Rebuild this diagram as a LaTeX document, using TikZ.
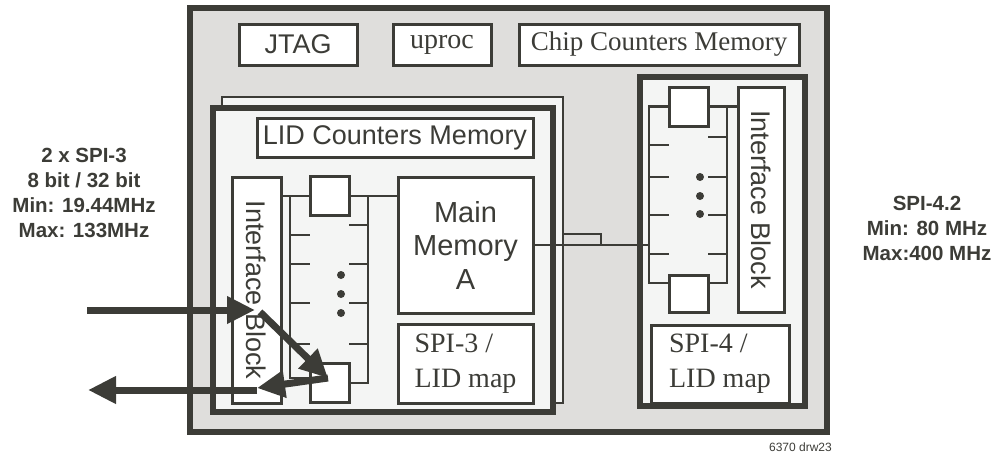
\documentclass[tikz,border=0pt]{standalone}
\usepackage{fontspec}
\setmainfont{Liberation Serif}
\setsansfont{Liberation Sans}
\usetikzlibrary{arrows.meta,calc}
\definecolor{ink}{HTML}{3C3C37}
\definecolor{chipgray}{HTML}{DFDEDC}
\definecolor{blockfill}{HTML}{F4F5F4}
\tikzset{
  chip/.style={draw=ink,line width=5.5pt,fill=chipgray,inner sep=0pt},
  block/.style={draw=ink,line width=5.5pt,fill=blockfill,inner sep=0pt},
  blockback/.style={draw=ink,line width=2.2pt,fill=blockfill,inner sep=0pt},
  sbox/.style={draw=ink,line width=3pt,fill=white,inner sep=0pt,text=ink,
    font=\sffamily\fontsize{27}{32}\selectfont},
  rbox/.style={draw=ink,line width=3pt,fill=white,inner sep=0pt,text=ink,
    font=\rmfamily\fontsize{28}{35}\selectfont},
  sq/.style={draw=ink,line width=3pt,fill=white,inner sep=0pt,
    minimum width=39pt,minimum height=39pt},
  bus/.style={draw=ink,line width=2.7pt},
  flow/.style={draw=ink,line width=7pt,-{Triangle[length=28pt,width=26pt]}},
  lbl/.style={align=center,text=ink,font=\sffamily\bfseries\fontsize{20.5}{25}\selectfont}
}

\begin{document}
\begin{tikzpicture}[x=1pt,y=-1pt]
  \useasboundingbox (0,0) rectangle (999,458);

  % Chip
  \node[chip, minimum width=637pt, minimum height=424pt] (chip) at (508.5,220) {};
  \node[sbox, minimum width=118pt, minimum height=41pt] (jtag) at (298,44.5) {JTAG};
  \node[rbox, minimum width=98pt, minimum height=41pt] (uproc) at (442,44.5) {uproc};
  \node[rbox, minimum width=280pt, minimum height=41pt, font=\rmfamily\fontsize{27}{32}\selectfont]
    (chipmem) at (659,44.5) {Chip Counters Memory};

  % SPI-3 side: second block behind, first block in front
  \node[blockback, minimum width=341pt, minimum height=306pt] (lidB) at (392.5,250) {};
  \node[block, minimum width=340pt, minimum height=304pt] (lidA) at (383,260) {};
  \node[sbox, minimum width=276pt, minimum height=39pt] (lidmem) at (395,137.5) {LID Counters Memory};
  \node[sbox, rotate=-90, minimum width=226pt, minimum height=49pt] (ifL) at (256.5,290) {Interface Block};
  \node[sq] (topL) at (329.5,196) {};
  \node[sq] (botL) at (329.5,383) {};
  \node[sbox, align=center, minimum width=135pt, minimum height=136pt,
    font=\sffamily\fontsize{29}{33.5}\selectfont] (mainA) at (465.5,245) {Main\\Memory\\A};
  \node[rbox, align=left, minimum width=135pt, minimum height=79pt] (map3) at (465.5,363.5) {SPI-3 /\\LID map};

  % SPI-3 bus
  \coordinate (railL1) at (290,196);
  \coordinate (railL2) at (368,196);
  \draw[bus] (ifL.north |- topL) -- (topL.west);
  \draw[bus] (topL.east) -- (topL.east -| mainA.west);
  \draw[bus] (railL1) -- ([yshift=5pt]botL.west -| railL1) -- ([yshift=5pt]botL.west);
  \draw[bus] (railL2) -- (botL.east -| railL2) -- (botL.east);
  \foreach \y in {235,264,303,344}
    \draw[bus] (290,\y) -- (310,\y);
  \foreach \y in {225,264,303,344}
    \draw[bus] (349,\y) -- (368,\y);
  \foreach \y in {275,294,313}
    \fill[ink] (341,\y) circle (4pt);

  % SPI-4 side
  \node[block, minimum width=165pt, minimum height=329pt] (spi4) at (722.5,241.5) {};
  \node[sbox, rotate=-90, minimum width=225pt, minimum height=46pt] (ifR) at (761,199.5) {Interface Block};
  \node[sq] (topR) at (688.5,106.5) {};
  \node[sq, minimum height=37pt] (botR) at (688.5,293.5) {};
  \node[rbox, align=left, minimum width=138pt, minimum height=78pt] (map4) at (720,364) {SPI-4 /\\LID map};

  % SPI-4 bus
  \coordinate (railR1) at (649,106.5);
  \coordinate (railR2) at (727,106.5);
  \draw[bus] (topR.east) -- (topR.east -| ifR.south);
  \draw[bus] (topR.west) -- (railR1) -- (649,283) -- (669,283);
  \draw[bus] (railR2) -- (727,283) -- (708,283);
  \foreach \y in {145,177,215,254}
    \draw[bus] (649,\y) -- (669,\y);
  \foreach \y in {137,177,215,254}
    \draw[bus] (708,\y) -- (727,\y);
  \foreach \y in {177,196,214}
    \fill[ink] (700,\y) circle (4pt);

  % link between the two sides
  \draw[bus] (mainA.east) -- (mainA.east -| railR1);
  \draw[bus] ([yshift=16pt]lidB.east) -- ++(37,0) -- ++(0,10);

  % traffic
  \coordinate (inS) at (87,310);
  \coordinate (inE) at (255,310);
  \coordinate (dnS) at (260,312);
  \coordinate (dnE) at (328,378);
  \coordinate (upE) at (257,388);
  \coordinate (outS) at (257,390);
  \coordinate (outE) at (88,390);
  \draw[flow] (inS) -- (inE);
  \draw[flow] (dnS) -- (dnE);
  \draw[flow] (dnE) -- (upE);
  \draw[flow] (outS) -- (outE);

  % labels
  \node[lbl] (spi3lbl) at (84,193) {2 x SPI-3\\8 bit / 32 bit\\Min: 19.44MHz\\Max: 133MHz};
  \node[lbl] (spi4lbl) at (927,228) {SPI-4.2\\Min: 80 MHz\\Max:400 MHz};
  \node[text=ink, font=\sffamily\fontsize{12}{14}\selectfont] (drw) at (800.5,447.5) {6370 drw23};
\end{tikzpicture}
\end{document}
